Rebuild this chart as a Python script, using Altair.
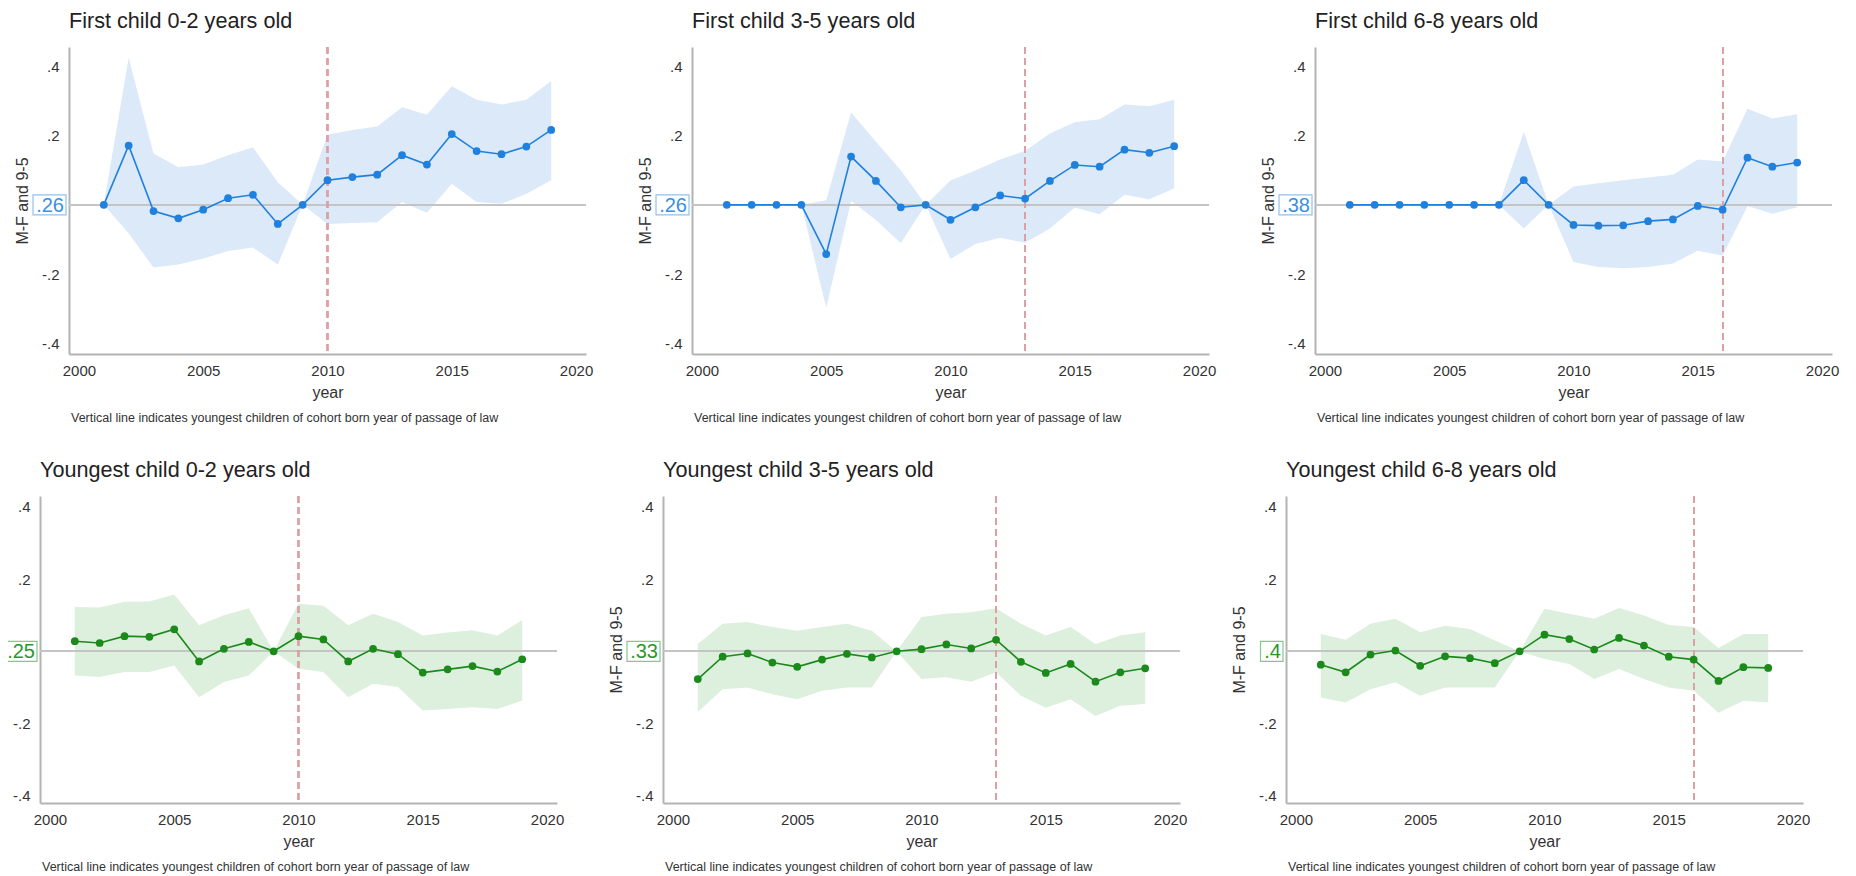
import altair as alt
import pandas as pd

YEARS = list(range(2001, 2020))

TITLES = ["First child 0-2 years old", "First child 3-5 years old", "First child 6-8 years old",
          "Youngest child 0-2 years old", "Youngest child 3-5 years old", "Youngest child 6-8 years old"]
LAW_YEAR = [2010, 2013, 2016, 2010, 2013, 2016]
BASE_LABEL = [".26", ".26", ".38", ".25", ".33", ".4"]
Y_TITLES = ["M-F and 9-5", "M-F and 9-5", "M-F and 9-5", None, "M-F and 9-5", "M-F and 9-5"]
CAPTION = "Vertical line indicates youngest children of cohort born year of passage of law"

# First child 0-2
EST_1 = [0, 0.171, -0.018, -0.039, -0.014, 0.019, 0.029, -0.055, 0, 0.071, 0.080, 0.087, 0.143, 0.116, 0.204, 0.155, 0.146, 0.168, 0.216]
HI_1 = [0, 0.424, 0.148, 0.108, 0.116, 0.143, 0.166, 0.065, 0, 0.202, 0.216, 0.226, 0.281, 0.260, 0.342, 0.303, 0.289, 0.303, 0.357]
LO_1 = [0, -0.082, -0.181, -0.172, -0.155, -0.133, -0.123, -0.172, 0, -0.055, -0.052, -0.050, 0.008, -0.023, 0.061, 0.008, 0.003, 0.032, 0.071]
# First child 3-5
EST_2 = [0, 0, 0, 0, -0.142, 0.139, 0.069, -0.007, 0, -0.043, -0.007, 0.027, 0.018, 0.069, 0.115, 0.110, 0.159, 0.150, 0.169]
HI_2 = [0, 0, 0, 0, 0.013, 0.266, 0.182, 0.100, 0, 0.070, 0.099, 0.131, 0.155, 0.206, 0.238, 0.247, 0.289, 0.284, 0.303]
LO_2 = [0, 0, 0, 0, -0.297, 0.012, -0.044, -0.110, 0, -0.156, -0.113, -0.095, -0.109, -0.068, -0.008, -0.027, 0.029, 0.016, 0.048]
# First child 6-8
EST_3 = [0, 0, 0, 0, 0, 0, 0, 0.071, 0, -0.058, -0.060, -0.059, -0.047, -0.042, -0.003, -0.014, 0.136, 0.110, 0.122]
HI_3 = [0, 0, 0, 0, 0, 0, 0, 0.210, 0, 0.053, 0.062, 0.071, 0.079, 0.087, 0.131, 0.125, 0.277, 0.249, 0.261]
LO_3 = [0, 0, 0, 0, 0, 0, 0, -0.068, 0, -0.165, -0.179, -0.183, -0.179, -0.169, -0.132, -0.146, -0.003, -0.026, -0.007]
# Youngest child 0-2
EST_4 = [0.028, 0.023, 0.042, 0.040, 0.061, -0.028, 0.007, 0.026, 0, 0.042, 0.033, -0.028, 0.007, -0.008, -0.059, -0.050, -0.041, -0.056, -0.022]
HI_4 = [0.123, 0.121, 0.137, 0.138, 0.157, 0.072, 0.100, 0.119, 0, 0.132, 0.126, 0.072, 0.104, 0.081, 0.044, 0.052, 0.058, 0.044, 0.086]
LO_4 = [-0.067, -0.071, -0.057, -0.057, -0.039, -0.127, -0.085, -0.067, 0, -0.048, -0.057, -0.127, -0.090, -0.099, -0.164, -0.160, -0.155, -0.160, -0.136]
# Youngest child 3-5
EST_5 = [-0.077, -0.015, -0.006, -0.031, -0.043, -0.023, -0.007, -0.017, 0, 0.006, 0.019, 0.008, 0.032, -0.029, -0.060, -0.035, -0.084, -0.058, -0.047]
HI_5 = [0.020, 0.076, 0.081, 0.067, 0.057, 0.067, 0.076, 0.057, 0, 0.095, 0.104, 0.108, 0.119, 0.076, 0.044, 0.067, 0.020, 0.044, 0.053]
LO_5 = [-0.168, -0.105, -0.100, -0.119, -0.133, -0.109, -0.100, -0.100, 0, -0.077, -0.072, -0.084, -0.058, -0.123, -0.156, -0.133, -0.179, -0.151, -0.146]
# Youngest child 6-8
EST_6 = [-0.037, -0.058, -0.009, 0.002, -0.040, -0.014, -0.019, -0.033, 0, 0.046, 0.034, 0.005, 0.037, 0.016, -0.015, -0.023, -0.082, -0.044, -0.046]
HI_6 = [0.048, 0.032, 0.076, 0.090, 0.053, 0.071, 0.062, 0.030, 0, 0.118, 0.104, 0.090, 0.120, 0.099, 0.073, 0.067, 0.009, 0.048, 0.048]
LO_6 = [-0.128, -0.142, -0.105, -0.086, -0.123, -0.100, -0.100, -0.100, 0, -0.021, -0.035, -0.077, -0.049, -0.077, -0.100, -0.109, -0.170, -0.137, -0.142]

X_TICKS = [2000, 2005, 2010, 2015, 2020]
Y_TICKS = [-0.4, -0.2, 0, 0.2, 0.4]
Y_TICK_LABELS = ["-.4", "-.2", "", ".2", ".4"]

X_DOMAIN = [1999.6, 2020.4]
Y_DOMAIN_TOP = [-0.43, 0.455]
Y_DOMAIN_BOTTOM = [-0.42, 0.43]

W, H = 517, 307
SHIFT = 29  # top-left panel is drawn this far right of the bottom-left one
FONT = "Liberation Sans"

BLUE = dict(line="#1f80de", band="#dbe9f9", box="#8fc2f0", text="#3a8fe2")
GREEN = dict(line="#1b8a1b", band="#ddefdd", box="#86c886", text="#2a982a")


def label_expr():
    s = ""
    for v, lab in zip(Y_TICKS, Y_TICK_LABELS):
        s += f"abs(datum.value - ({v})) < 0.01 ? '{lab}' : "
    return s + "''"


def panel(i, est, lo, hi, ydom, col, shift=0):
    df = pd.DataFrame({"year": YEARS, "est": est, "lo": lo, "hi": hi})
    ytitle = Y_TITLES[i]
    xscale = alt.Scale(domain=X_DOMAIN, nice=False, zero=False, range=[shift, shift + W])
    yscale = alt.Scale(domain=ydom, nice=False, zero=False)
    xaxis = alt.Axis(values=X_TICKS, format="d", title="year", labelPadding=9, titlePadding=6)
    yaxis = alt.Axis(values=Y_TICKS, labelExpr=label_expr(), title=ytitle, titlePadding=11,
                     offset=-shift)

    base = alt.Chart(df)
    band = base.mark_area(color=col["band"], opacity=1).encode(
        x=alt.X("year:Q", scale=xscale, axis=xaxis),
        y=alt.Y("lo:Q", scale=yscale, axis=yaxis),
        y2="hi:Q",
    )
    zero = base.mark_rule(color="#c4c4c4", strokeWidth=1.5).encode(
        x=alt.datum(X_DOMAIN[0]), x2=alt.datum(X_DOMAIN[1]), y=alt.datum(0))
    vline = base.mark_rule(color="#dca0a6", strokeWidth=1.2, strokeDash=[7, 4]).encode(
        x=alt.datum(LAW_YEAR[i]))
    line = base.mark_line(color=col["line"], strokeWidth=1.6).encode(
        x=alt.X("year:Q", scale=xscale, axis=xaxis),
        y=alt.Y("est:Q", scale=yscale, axis=yaxis),
    )
    pts = base.mark_circle(color=col["line"], size=60, opacity=1).encode(
        x=alt.X("year:Q", scale=xscale, axis=xaxis),
        y=alt.Y("est:Q", scale=yscale, axis=yaxis),
    )
    lab = BASE_LABEL[i]
    bw = 8 + 10.5 * (len(lab) - 1) + 4
    lbl_df = pd.DataFrame({"lbl": [lab]})
    box = alt.Chart(lbl_df).mark_rect(fill="white", stroke=col["box"], strokeWidth=1.2,
                                      yOffset=-10, y2Offset=10).encode(
        x=alt.value(shift - 3 - bw), x2=alt.value(shift - 3), y=alt.datum(0), y2=alt.datum(0))
    txt = alt.Chart(lbl_df).mark_text(font=FONT, fontSize=20, color=col["text"], align="right",
                                      baseline="middle", dy=1).encode(
        x=alt.value(shift - 5), y=alt.datum(0), text="lbl:N")
    cap_df = pd.DataFrame({"cap": [CAPTION]})
    cap = alt.Chart(cap_df).mark_text(font=FONT, fontSize=12.5, color="#333", align="left",
                                      baseline="alphabetic").encode(
        x=alt.value(shift + 2), y=alt.value(H + 68), text="cap:N")
    layers = [band, zero, vline, line, pts, box, txt, cap]
    return alt.layer(*layers).properties(
        width=W + shift, height=H,
        title=alt.TitleParams(TITLES[i], anchor="start", frame="group", fontSize=21.6, font=FONT,
                              fontWeight="normal", color="#222", baseline="alphabetic",
                              offset=-3, dx=shift),
    )


p1 = panel(0, EST_1, LO_1, HI_1, Y_DOMAIN_TOP, BLUE, shift=SHIFT)
p2 = panel(1, EST_2, LO_2, HI_2, Y_DOMAIN_TOP, BLUE)
p3 = panel(2, EST_3, LO_3, HI_3, Y_DOMAIN_TOP, BLUE)
p4 = panel(3, EST_4, LO_4, HI_4, Y_DOMAIN_BOTTOM, GREEN)
p5 = panel(4, EST_5, LO_5, HI_5, Y_DOMAIN_BOTTOM, GREEN)
p6 = panel(5, EST_6, LO_6, HI_6, Y_DOMAIN_BOTTOM, GREEN)


def build(pad_left):
    top = alt.hconcat(p1, p2, p3, spacing=106, bounds="flush")
    bottom = alt.hconcat(p4, p5, p6, spacing=106, bounds="flush")
    return alt.vconcat(top, bottom, spacing=34).properties(
        padding={"left": pad_left, "top": 2, "right": 5, "bottom": 2}
    ).configure_view(stroke=None).configure_axis(
        labelFont=FONT, labelFontSize=15, labelColor="#333",
        titleFont=FONT, titleFontSize=16, titleFontWeight="normal", titleColor="#333",
        domainColor="#b3b3b3", domainWidth=2, ticks=False, tickSize=0, grid=False,
        labelPadding=10,
    )


try:
    chart = build(-5)
    chart.save("out.html", embed_options={"renderer": "svg", "actions": False})
except Exception:
    chart = build(0)
    chart.save("out.html", embed_options={"renderer": "svg", "actions": False})
